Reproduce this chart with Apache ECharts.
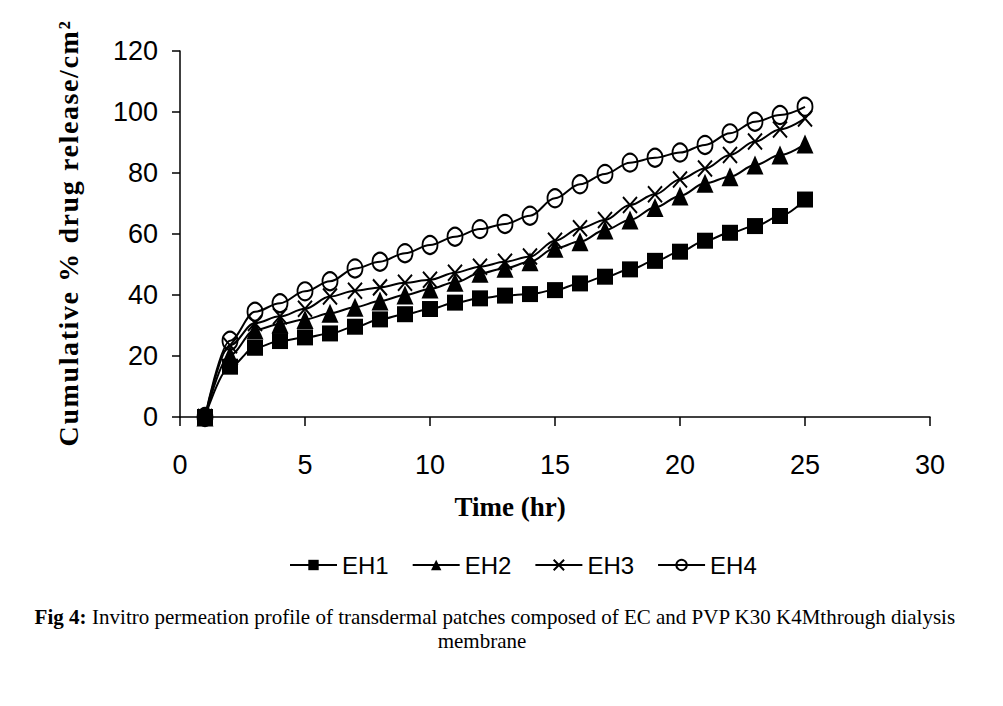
<!DOCTYPE html>
<html>
<head>
<meta charset="utf-8">
<script src="https://cdn.jsdelivr.net/npm/echarts@6/dist/echarts.min.js"></script>
<style>
html,body{margin:0;padding:0;background:#fff;}
#chart{width:1003px;height:706px;}
</style>
</head>
<body>
<div id="chart"></div>
<script>
// ---- data ----
const hours = [1,2,3,4,5,6,7,8,9,10,11,12,13,14,15,16,17,18,19,20,21,22,23,24,25];
const EH1 = [0,16.5,22.7,24.9,26.1,27.4,29.6,32,33.7,35.4,37.5,38.9,39.8,40.3,41.6,43.8,46,48.4,51.2,54.2,57.8,60.4,62.6,65.9,71.3];
const EH2 = [0,20.3,28.5,30.5,32,34,36,38,40,42,44.2,47.1,48.8,50.9,55.3,57.5,61.3,64.6,68.7,72.5,76.6,78.8,82.6,85.9,89.5];
const EH3 = [0,23.5,30.8,33,35.5,39.5,41.4,42.5,44,45,47.3,49.3,50.9,52.6,57.8,61.9,64.6,69.5,73,77.9,81.5,85.9,90.3,94.3,97.9];
const EH4 = [0,25,34.5,37.3,41.2,44.5,48.7,50.9,53.7,56.4,59.1,61.6,63.3,66,71.7,76.3,79.7,83.4,85,86.7,89.2,93,96.8,99,101.7];
const seriesNames = ['EH1','EH2','EH3','EH4'];
const xAxisTitle = 'Time (hr)';
const yAxisTitle = 'Cumulative % drug release/cm\u00B2';
const captionBold = 'Fig 4:';
const captionLine1 = ' Invitro permeation profile of transdermal patches composed of EC and PVP K30 K4Mthrough dialysis';
const captionLine2 = 'membrane';

const sans = '"Liberation Sans","Arial",sans-serif';
const serif = '"Liberation Serif","Times New Roman","DejaVu Serif",serif';

function pairs(vals){ return hours.map((h,i)=>[h, vals[i]]); }

const markerDefs = [
  {symbol:'rect', size:[16,16], itemStyle:{color:'#000', borderColor:'#000', borderWidth:0}},
  {symbol:'triangle', size:[17,19], itemStyle:{color:'#000', borderColor:'#000', borderWidth:0}},
  {symbol:'path://M0,0L10,10M0,10L10,0', size:[14,16], itemStyle:{color:'#000', borderColor:'#000', borderWidth:2}},
  {symbol:'circle', size:[15,18], itemStyle:{color:'rgba(255,255,255,0)', borderColor:'#000', borderWidth:2}}
];
const allValues = [EH1, EH2, EH3, EH4];

const chart = echarts.init(document.getElementById('chart'), null, {renderer:'svg'});

const option = {
  animation: false,
  backgroundColor: '#fff',
  grid: {left:180, right:73, top:51, bottom:289, containLabel:false},
  xAxis: {
    type:'value', min:0, max:30, interval:5,
    name: xAxisTitle, nameLocation:'middle', nameGap:76,
    nameTextStyle:{fontFamily:serif, fontWeight:'bold', fontSize:27, color:'#000', padding:[0,90,0,0]},
    axisLine:{show:true, onZero:false, lineStyle:{color:'#000', width:1.5}},
    axisTick:{show:true, inside:false, length:9, lineStyle:{color:'#000', width:1.5}},
    axisLabel:{color:'#000', fontFamily:sans, fontSize:27, margin:34},
    splitLine:{show:false}
  },
  yAxis: {
    type:'value', min:0, max:120, interval:20,
    axisLine:{show:true, lineStyle:{color:'#000', width:1.5}},
    axisTick:{show:true, inside:false, length:8, lineStyle:{color:'#000', width:1.5}},
    axisLabel:{color:'#000', fontFamily:sans, fontSize:27, margin:22},
    splitLine:{show:false}
  },
  legend: {
    data: seriesNames,
    left: 284, top: 548,
    itemWidth: 47, itemHeight: 13, itemGap: 23,
    textStyle:{color:'#000', fontFamily:sans, fontSize:24}
  },
  graphic: [
    {
      type:'text', x:68, y:233, rotation:Math.PI/2,
      style:{text:yAxisTitle, font:'bold 28px ' + serif, fill:'#000',
             textAlign:'center', textVerticalAlign:'middle', align:'center', verticalAlign:'middle'}
    },
    {
      type:'text', x:495, y:617,
      style:{
        text:'{b|' + captionBold + '}{n|' + captionLine1 + '}',
        textAlign:'center', textVerticalAlign:'middle', align:'center', verticalAlign:'middle',
        rich:{
          b:{fontFamily:serif, fontWeight:'bold', fontSize:21, fill:'#000', color:'#000'},
          n:{fontFamily:serif, fontSize:21, fill:'#000', color:'#000'}
        }
      }
    },
    {
      type:'text', x:482, y:641,
      style:{text:captionLine2, font:'21px ' + serif, fill:'#000',
             textAlign:'center', textVerticalAlign:'middle', align:'center', verticalAlign:'middle'}
    }
  ],
  series: seriesNames.map((name,i)=>({
    name: name,
    type:'line',
    data: pairs(allValues[i]),
    smooth: 0.35,
    smoothMonotone: 'x',
    symbol: markerDefs[i].symbol,
    symbolSize: markerDefs[i].size,
    showAllSymbol: true,
    lineStyle:{color:'#000', width:2},
    itemStyle: markerDefs[i].itemStyle,
    emphasis:{disabled:true},
    z: 2 + i
  }))
};
chart.setOption(option);

function patchSpacing(){
  document.querySelectorAll('#chart text').forEach(t=>{
    if (t.textContent.indexOf('Cumulative') >= 0) {
      t.setAttribute('letter-spacing','1.6px');
    }
  });
}
chart.on('finished', patchSpacing);
setTimeout(patchSpacing, 30);
setTimeout(patchSpacing, 300);
</script>
</body>
</html>
